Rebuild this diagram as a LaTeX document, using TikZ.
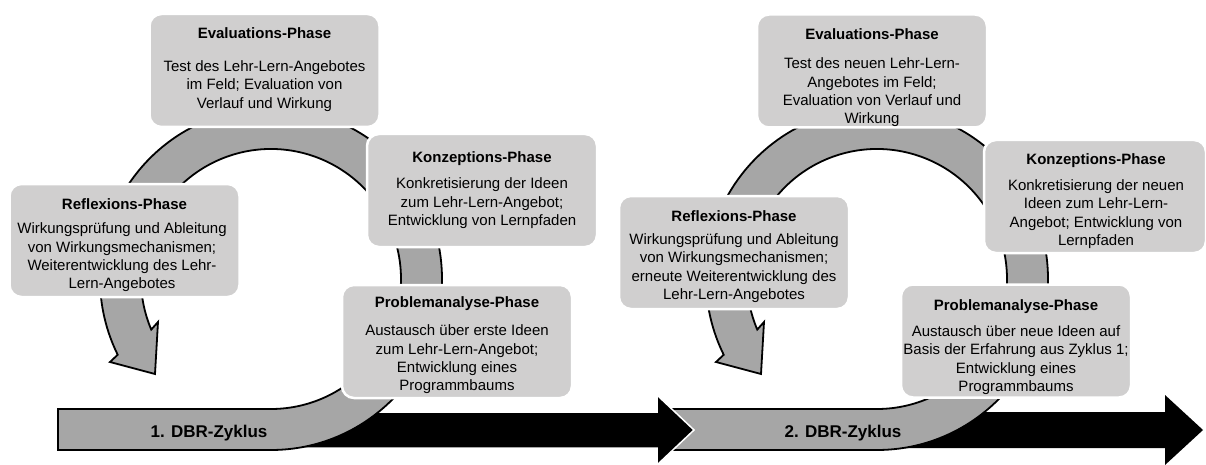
\documentclass[tikz,border=0pt]{standalone}
\usepackage{fontspec}
\setmainfont{Liberation Sans}
\usetikzlibrary{calc}
\definecolor{boxgray}{RGB}{208,207,207}
\definecolor{ringgray}{RGB}{166,166,166}

\begin{document}
\begin{tikzpicture}[x=1pt,y=-1pt,
  phasebox/.style={draw=white, line width=2.5pt, fill=boxgray, rounded corners=12pt,
    minimum width=230pt, minimum height=113pt, inner sep=0pt},
  phasetitle/.style={font=\bfseries\fontsize{15}{18}\selectfont, anchor=base, inner sep=0pt},
  phasetext/.style={font=\fontsize{15}{18.4}\selectfont, align=center, inner sep=0pt},
  ring/.style={fill=ringgray, draw=black, line width=1.8pt, line join=miter},
  flow/.style={fill=black},
  cyclelabel/.style={font=\bfseries\fontsize{17}{20}\selectfont, anchor=base, inner sep=0pt}]

\useasboundingbox (0,0) rectangle (1206,465);

% centres of the two cycle rings
\coordinate (c1) at (271,279);
\coordinate (c2) at (877,279);

% time line, second part
\fill[flow] (860,412) -- (1165,412) -- (1165,395) -- (1203,430) -- (1165,465)
  -- (1165,448) -- (860,448) -- cycle;

% second cycle: bar turning into a circular arrow
\draw[ring] (664,409) -- (664,450) -- (877,450)
  arc[start angle=-90, end angle=206.3, radius=171pt]
  -- (716,362) -- (761,374) -- (764,322)
  -- ($(c2)+(202.9:130pt)$)
  arc[start angle=202.9, end angle=-90, radius=130pt] -- cycle;

% time line, first part (white rim over the second bar)
\draw[flow, draw=white, line width=1.5pt] (260,412) -- (657,412) -- (657,395) -- (694,430)
  -- (657,465) -- (657,448) -- (260,448) -- cycle;

% first cycle
\draw[ring] (58,409) -- (58,450) -- (271,450)
  arc[start angle=-90, end angle=206.3, radius=171pt]
  -- (110,362) -- (155,374) -- (158,322)
  -- ($(c1)+(202.9:130pt)$)
  arc[start angle=202.9, end angle=-90, radius=130pt] -- cycle;

\node[cyclelabel] (z1) at (209,437) {1. DBR-Zyklus};
\node[cyclelabel] (z2) at (843,437) {2. DBR-Zyklus};

% ---- phases of cycle 1
\node[phasebox] (e1) at (264.5,70.5) {};
\node[phasetitle] (e1t) at (264.5,38.4) {Evaluations-Phase};
\node[phasetext] (e1b) at (264.5,85.8) {Test des Lehr-Lern-Angebotes\\im Feld; Evaluation von\\Verlauf und Wirkung};

\node[phasebox] (k1) at (482,190.5) {};
\node[phasetitle] (k1t) at (482,162.4) {Konzeptions-Phase};
\node[phasetext] (k1b) at (482,203.5) {Konkretisierung der Ideen\\zum Lehr-Lern-Angebot;\\Entwicklung von Lernpfaden};

\node[phasebox] (r1) at (124.5,240.5) {};
\node[phasetitle] (r1t) at (124.5,209.4) {Reflexions-Phase};
\node[phasetext] (r1b) at (122,257.5) {Wirkungsprüfung und Ableitung\\von Wirkungsmechanismen;\\Weiterentwicklung des Lehr-\\Lern-Angebotes};

\node[phasebox] (p1) at (457,341.5) {};
\node[phasetitle] (p1t) at (457,307.4) {Problemanalyse-Phase};
\node[phasetext] (p1b) at (457,359.5) {Austausch über erste Ideen\\zum Lehr-Lern-Angebot;\\Entwicklung eines\\Programmbaums};

% ---- phases of cycle 2
\node[phasebox] (e2) at (872,71) {};
\node[phasetitle] (e2t) at (872,39.4) {Evaluations-Phase};
\node[phasetext] (e2b) at (872,92.5) {Test des neuen Lehr-Lern-\\Angebotes im Feld;\\Evaluation von Verlauf und\\Wirkung};

\node[phasebox, minimum width=222pt] (k2) at (1095,196.5) {};
\node[phasetitle] (k2t) at (1096,164.4) {Konzeptions-Phase};
\node[phasetext] (k2b) at (1096,214.25) {Konkretisierung der neuen\\Ideen zum Lehr-Lern-\\Angebot; Entwicklung von\\Lernpfaden};

\node[phasebox] (r2) at (734,252.5) {};
\node[phasetitle] (r2t) at (734,221.4) {Reflexions-Phase};
\node[phasetext] (r2b) at (734,268.25) {Wirkungsprüfung und Ableitung\\von Wirkungsmechanismen;\\erneute Weiterentwicklung des\\Lehr-Lern-Angebotes};

\node[phasebox] (p2) at (1016,341) {};
\node[phasetitle] (p2t) at (1016,310.4) {Problemanalyse-Phase};
\node[phasetext] (p2b) at (1016,360) {Austausch über neue Ideen auf\\Basis der Erfahrung aus Zyklus 1;\\Entwicklung eines\\Programmbaums};

\end{tikzpicture}
\end{document}
